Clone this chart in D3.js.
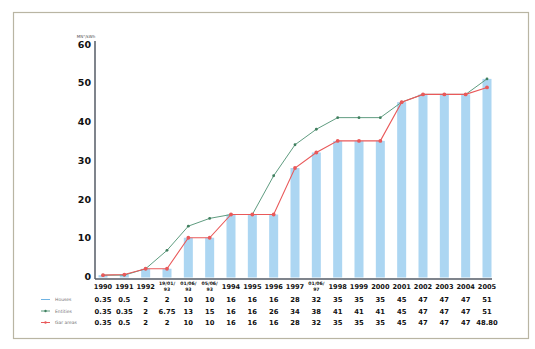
<!DOCTYPE html>
<html>
<head>
<meta charset="utf-8">
<script src="https://cdn.jsdelivr.net/npm/d3@7"></script>
<style>
body { margin: 0; background: #fff; }
text { font-family: "DejaVu Sans", sans-serif; }
</style>
</head>
<body>
<div id="view"></div>
<script>
var width = 535, height = 349;

// categories (two-line labels split with "|")
var periods = ["1990", "1991", "1992", "19/01/|93", "01/06/|93", "05/06/|93", "1994", "1995", "1996",
	"1997", "01/06/|97", "1998", "1999", "2000", "2001", "2002", "2003", "2004", "2005"];
var houses = [0.35, 0.5, 2, 2, 10, 10, 16, 16, 16, 28, 32, 35, 35, 35, 45, 47, 47, 47, 51];
var entities = [0.35, 0.35, 2, 6.75, 13, 15, 16, 16, 26, 34, 38, 41, 41, 41, 45, 47, 47, 47, 51];
var gasAreas = [0.35, 0.5, 2, 2, 10, 10, 16, 16, 16, 28, 32, 35, 35, 35, 45, 47, 47, 47, 48.8];
var gasLabels = ["0.35", "0.5", "2", "2", "10", "10", "16", "16", "16", "28", "32", "35", "35", "35", "45", "47", "47", "47", "48.80"];
var yTicks = [0, 10, 20, 30, 40, 50, 60];
var seriesNames = ["Houses", "Entities", "Gar areas"];

var blue = "#acd6f2", green = "#5f9c80", red = "#e9595a";

var svg = d3.select("#view").append("svg")
	.attr("width", width)
	.attr("height", height);

// frame
svg.append("rect")
	.attr("x", 13.5).attr("y", 12.5)
	.attr("width", 515).attr("height", 326)
	.attr("fill", "none")
	.attr("stroke", "#b9b5a3")
	.attr("stroke-width", 1.2);

var x = d3.scalePoint().domain(d3.range(periods.length)).range([103, 487]);
var y = d3.scaleLinear().domain([0, 60]).range([276.5, 44]);

// bars
svg.selectAll(".bar")
	.data(houses).enter()
	.append("rect")
	.attr("class", "bar")
	.attr("x", function(d, i) { return x(i) - 4.5; })
	.attr("width", 9)
	.attr("y", function(d) { return y(d); })
	.attr("height", function(d) { return y(0) - y(d) + 1; })
	.attr("fill", blue);

// axes
svg.append("line")
	.attr("x1", 95).attr("x2", 95)
	.attr("y1", 41).attr("y2", 279)
	.attr("stroke", "#555b66").attr("stroke-width", 1.5);
svg.append("line")
	.attr("x1", 95).attr("x2", 492)
	.attr("y1", 279).attr("y2", 279)
	.attr("stroke", "#555b66").attr("stroke-width", 1.5);

svg.selectAll(".ytick")
	.data(yTicks).enter()
	.append("text")
	.attr("class", "ytick")
	.attr("x", 91)
	.attr("y", function(d) { return y(d) + 3.5; })
	.attr("text-anchor", "end")
	.attr("font-size", "9.5px")
	.attr("font-weight", "bold")
	.attr("fill", "#111")
	.text(function(d) { return d; });

svg.append("text")
	.attr("x", 86).attr("y", 38)
	.attr("text-anchor", "middle")
	.attr("font-size", "4px")
	.attr("fill", "#555")
	.text("MN°/kWh");

// lines
var line = d3.line()
	.x(function(d, i) { return x(i); })
	.y(function(d) { return y(d); });

svg.append("path")
	.datum(entities)
	.attr("d", line)
	.attr("fill", "none")
	.attr("stroke", green)
	.attr("stroke-width", 1);
svg.append("path")
	.datum(gasAreas)
	.attr("d", line)
	.attr("fill", "none")
	.attr("stroke", red)
	.attr("stroke-width", 1.1);

svg.selectAll(".gdot")
	.data(entities).enter()
	.append("circle")
	.attr("class", "gdot")
	.attr("cx", function(d, i) { return x(i); })
	.attr("cy", function(d) { return y(d); })
	.attr("r", 1.4)
	.attr("fill", "#3f7f5e");
svg.selectAll(".rdot")
	.data(gasAreas).enter()
	.append("circle")
	.attr("class", "rdot")
	.attr("cx", function(d, i) { return x(i); })
	.attr("cy", function(d) { return y(d); })
	.attr("r", 1.9)
	.attr("fill", red);

// category labels
var cat = svg.selectAll(".cat")
	.data(periods).enter()
	.append("text")
	.attr("class", "cat")
	.attr("text-anchor", "middle")
	.attr("font-weight", "bold")
	.attr("fill", "#111");
cat.each(function(d, i) {
	var parts = d.split("|");
	var t = d3.select(this);
	if (parts.length == 1) {
		t.attr("font-size", "6.6px")
			.append("tspan").attr("x", x(i)).attr("y", 289).text(parts[0]);
	} else {
		t.attr("font-size", "4.6px");
		t.append("tspan").attr("x", x(i)).attr("y", 285).text(parts[0]);
		t.append("tspan").attr("x", x(i)).attr("y", 291).text(parts[1]);
	}
});

// data table
var rows = [
	houses.map(function(d) { return String(d); }),
	entities.map(function(d) { return String(d); }),
	gasLabels
];
var rowY = [302, 313.5, 325];
rows.forEach(function(r, k) {
	svg.selectAll(".row" + k)
		.data(r).enter()
		.append("text")
		.attr("class", "row" + k)
		.attr("x", function(d, i) { return x(i); })
		.attr("y", rowY[k])
		.attr("text-anchor", "middle")
		.attr("font-size", "6.8px")
		.attr("font-weight", "bold")
		.attr("fill", "#111")
		.text(function(d) { return d; });
});

// legend
var legColors = [blue, green, red];
seriesNames.forEach(function(name, k) {
	var ly = rowY[k] - 2.5;
	svg.append("line")
		.attr("x1", 41).attr("x2", 50)
		.attr("y1", ly).attr("y2", ly)
		.attr("stroke", k == 0 ? "#6fb3e3" : legColors[k]).attr("stroke-width", 1);
	if (k > 0) {
		svg.append("circle")
			.attr("cx", 45.5).attr("cy", ly).attr("r", 1.2)
			.attr("fill", k == 1 ? "#3f7f5e" : red);
	}
	svg.append("text")
		.attr("x", 55).attr("y", ly + 1.5)
		.attr("font-size", "4.5px")
		.attr("fill", "#777")
		.text(name);
});
</script>
</body>
</html>
